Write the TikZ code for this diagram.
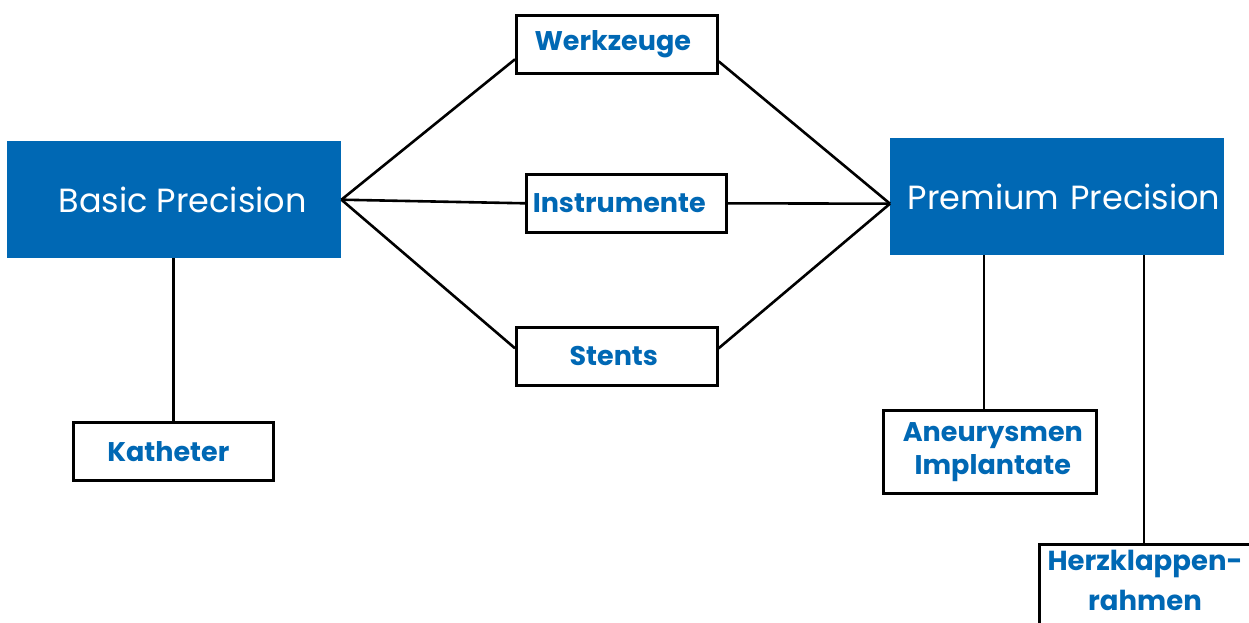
\documentclass[tikz,border=0pt]{standalone}
\usepackage{fontspec}
\setmainfont{Poppins}
\usetikzlibrary{calc}
\definecolor{pblue}{RGB}{0,104,180}
\tikzset{
  mainbox/.style={fill=pblue, text=white, inner sep=0pt, anchor=north west, font=\fontsize{33.5}{40}\selectfont},
  subbox/.style={draw=black, line width=2.6pt, fill=white, text=pblue, inner sep=0pt, anchor=north west, align=center, font=\bfseries\fontsize{27}{33}\selectfont},
  conn/.style={line width=2.6pt, black}
}
\begin{document}
\begin{tikzpicture}[x=1pt,y=-1pt]
\useasboundingbox (0,0) rectangle (1249,623);
\clip (0,0) rectangle (1249,623);
\node[mainbox, minimum width=334pt, minimum height=117pt] (basic) at (7,141) {\hspace*{17pt}\raisebox{-1pt}{Basic Precision}};
\node[mainbox, minimum width=334pt, minimum height=117pt, text width=326pt, align=right] (prem) at (890,138) {\raisebox{-3pt}{Premium Precision}};
\node[subbox, minimum width=201pt, minimum height=58pt] (werk) at (515,14) {\hspace*{-8pt}Werkzeuge};
\node[subbox, minimum width=200pt, minimum height=58pt] (inst) at (525,173) {\hspace*{-14pt}Instrumente};
\node[subbox, minimum width=201pt, minimum height=58pt] (stent) at (515,326) {\hspace*{-6pt}Stents};
\node[subbox, minimum width=200pt, minimum height=58pt] (kath) at (72,421) {\hspace*{-10pt}Katheter};
\node[subbox, minimum width=213pt, minimum height=83pt] (aneu) at (882,409) {\hspace*{6pt}Aneurysmen\\\hspace*{6pt}Implantate};
\node[subbox, minimum width=216pt, minimum height=100pt] (herz) at (1038,543) {};
\node[text=pblue, font=\bfseries\fontsize{27.5}{40}\selectfont, align=center, anchor=north, inner sep=0pt] (herzt) at (1145,550) {Herzklappen-\\rahmen};
\draw[conn] (basic.east) -- ([yshift=-15pt]werk.west);
\draw[conn] (basic.east) -- (inst.west);
\draw[conn] (basic.east) -- ([yshift=8pt]stent.west);
\draw[conn] ([yshift=-17pt]werk.east) -- ([yshift=-7pt]prem.west);
\draw[conn] (inst.east) -- ([yshift=-7pt]prem.west);
\draw[conn] ([yshift=8pt]stent.east) -- ([yshift=-7pt]prem.west);
\draw[conn] (basic.south -| kath.north) -- (kath.north);
\draw[conn] (prem.south -| 984,0) -- (aneu.north -| 984,0);
\draw[conn] (prem.south -| 1144,0) -- (herz.north west -| 1144,0);
\end{tikzpicture}
\end{document}
